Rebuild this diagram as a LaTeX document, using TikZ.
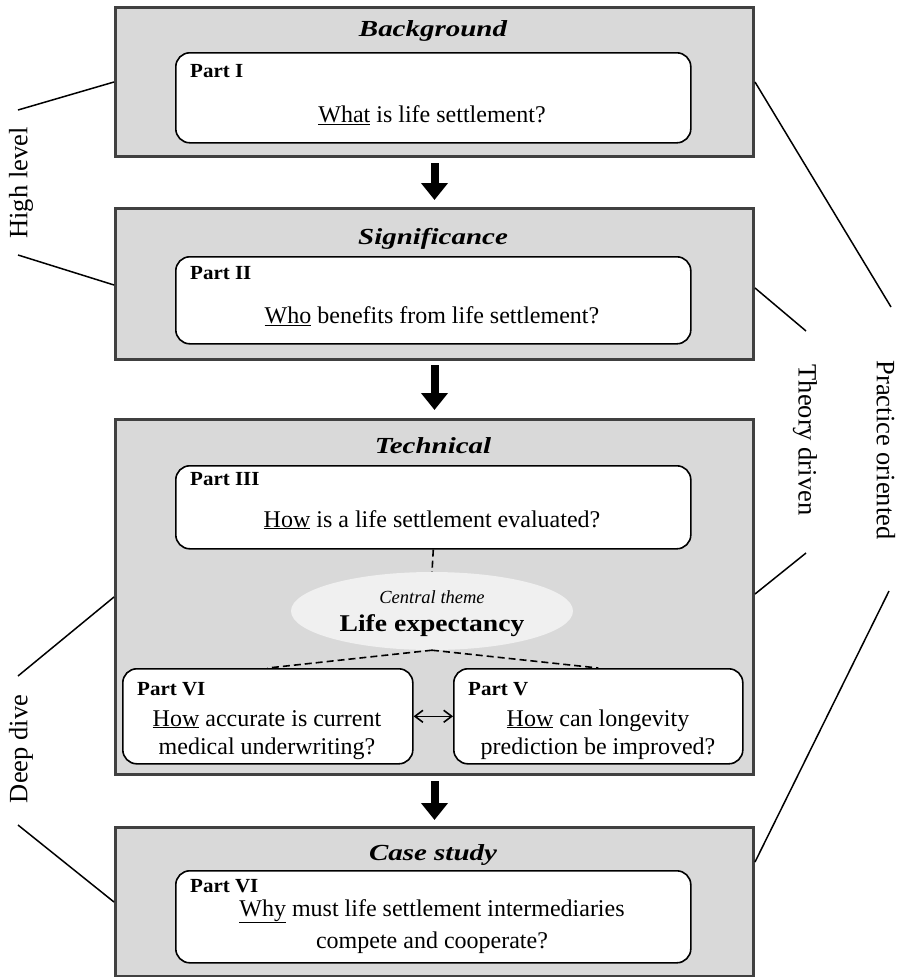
\documentclass[tikz,border=0pt]{standalone}
\usepackage{fontspec}
\setmainfont{Liberation Serif}
\newfontfamily\widebf{Liberation Serif}[FakeStretch=1.15]
\newfontfamily\partfont{Liberation Serif}[FakeStretch=1.05]
\newfontfamily\titlefont{Liberation Serif}[FakeStretch=1.26]
\usetikzlibrary{shapes.geometric,arrows.meta,calc}
\definecolor{panelfill}{HTML}{D9D9D9}
\definecolor{panelline}{HTML}{404040}
\definecolor{ellfill}{HTML}{F0F0F0}
\begin{document}
\begin{tikzpicture}[x=1pt,y=-1pt,
  panel/.style={draw=panelline, fill=panelfill, line width=3pt, minimum width=638pt, anchor=north west, inner sep=0pt},
  partbox/.style={draw=black, fill=white, line width=1.6pt, rounded corners=14pt, anchor=north west, inner sep=0pt},
  ptitle/.style={font=\titlefont\bfseries\itshape\fontsize{23}{28}\selectfont, anchor=base, inner sep=0pt},
  plabel/.style={font=\partfont\bfseries\fontsize{20}{24}\selectfont, anchor=base west, inner sep=0pt},
  question/.style={font=\fontsize{24}{28}\selectfont, anchor=base, inner sep=0pt, align=center},
  sidelabel/.style={font=\fontsize{26.5}{30}\selectfont, inner sep=0pt},
  sideline/.style={line width=1.5pt},
  blockarrow/.style={line width=8pt, -{Triangle[length=17pt,width=26pt]}},
  dashline/.style={line width=1.6pt, dash pattern=on 7pt off 4pt}]
\useasboundingbox (0,0) rectangle (910,977);

% panels
\node[panel, minimum height=149pt] (bg) at (114,6) {};
\node[panel, minimum height=151pt] (sig) at (114,207) {};
\node[panel, minimum height=355pt] (tech) at (114,418) {};
\node[panel, minimum height=149pt] (case) at (114,826) {};

% titles
\node[ptitle] (tbg) at (433,36) {Background};
\node[ptitle] (tsig) at (433,244) {Significance};
\node[ptitle] (ttech) at (433,453) {Technical};
\node[ptitle] (tcase) at (433,860) {Case study};

% part boxes
\node[partbox, minimum width=515pt, minimum height=90pt] (p1) at (175,52) {};
\node[partbox, minimum width=515pt, minimum height=87pt] (p2) at (175,256) {};
\node[partbox, minimum width=515pt, minimum height=83pt] (p3) at (175,465) {};
\node[partbox, minimum width=290pt, minimum height=95pt] (p6) at (122,668) {};
\node[partbox, minimum width=289pt, minimum height=95pt] (p5) at (453,668) {};
\node[partbox, minimum width=515pt, minimum height=92pt] (p7) at (175,870) {};

% part labels
\node[plabel] (l1) at (190,77) {Part I};
\node[plabel] (l2) at (190,279) {Part II};
\node[plabel] (l3) at (190,485) {Part III};
\node[plabel] (l6) at (137,695) {Part VI};
\node[plabel] (l5) at (468,695) {Part V};
\node[plabel] (l7) at (190,892) {Part VI};

% questions
\node[question] (q1) at (432,122) {\underline{What} is life settlement?};
\node[question] (q2) at (432,323) {\underline{Who} benefits from life settlement?};
\node[question] (q3) at (432,527) {\underline{How} is a life settlement evaluated?};
\node[question, font=\fontsize{24}{28}\selectfont] (q6) at (267,754) {\underline{How} accurate is current\\medical underwriting?};
\node[question, font=\fontsize{24}{28}\selectfont] (q5) at (598,754) {\underline{How} can longevity\\prediction be improved?};
\node[question, font=\fontsize{24}{32}\selectfont] (q7) at (432,948) {\underline{Why} must life settlement intermediaries\\compete and cooperate?};

% central theme
\node[ellipse, fill=ellfill, minimum width=282pt, minimum height=78pt, inner sep=0pt] (ell) at (432,611) {};
\node[font=\itshape\fontsize{18.5}{22}\selectfont, anchor=base, inner sep=0pt] (ct) at (432,603) {Central theme};
\node[font=\widebf\bfseries\fontsize{24}{28}\selectfont, anchor=base, inner sep=0pt] (le) at (432,631) {Life expectancy};

% connectors inside technical
\draw[dashline] (p3.south) -- (ell.north);
\draw[dashline] (ell.south) -- (p6.north);
\draw[dashline] (ell.south) -- (p5.north);
\draw[line width=1.6pt, {Straight Barb[length=8pt,width=12pt]}-{Straight Barb[length=8pt,width=12pt]}] (p6.east) -- (p5.west);

% block arrows
\draw[blockarrow, shorten <=5pt, shorten >=7pt] (bg.south) -- (sig.north);
\draw[blockarrow, shorten <=4pt, shorten >=8pt] (sig.south) -- (tech.north);
\draw[blockarrow, shorten <=5pt, shorten >=6pt] (tech.south) -- (case.north);

% side labels
\node[sidelabel, rotate=90] (hl) at (21,183) {High level};
\node[sidelabel, rotate=90] (dd) at (21,749) {Deep dive};
\node[sidelabel, rotate=-90] (td) at (805,440) {Theory driven};
\node[sidelabel, rotate=-90] (po) at (886,450) {Practice oriented};

\coordinate (hlA) at (18,110);
\coordinate (hlB) at (18,255);
\coordinate (ddA) at (18,676);
\coordinate (ddB) at (18,825);
\coordinate (tdA) at (806,331);
\coordinate (tdB) at (806,553);
\coordinate (poA) at (891,307);
\coordinate (poB) at (889,591);

\draw[sideline] (hlA) -- (bg.west |- 0,82);
\draw[sideline] (hlB) -- (sig.west |- 0,285);
\draw[sideline] (ddA) -- (tech.west |- 0,597);
\draw[sideline] (ddB) -- (case.west |- 0,902);
\draw[sideline] (tdA) -- (sig.east |- 0,288);
\draw[sideline] (tdB) -- (tech.east |- 0,594);
\draw[sideline] (poA) -- (bg.east |- 0,82);
\draw[sideline] (poB) -- (case.east |- 0,862);
\end{tikzpicture}
\end{document}
